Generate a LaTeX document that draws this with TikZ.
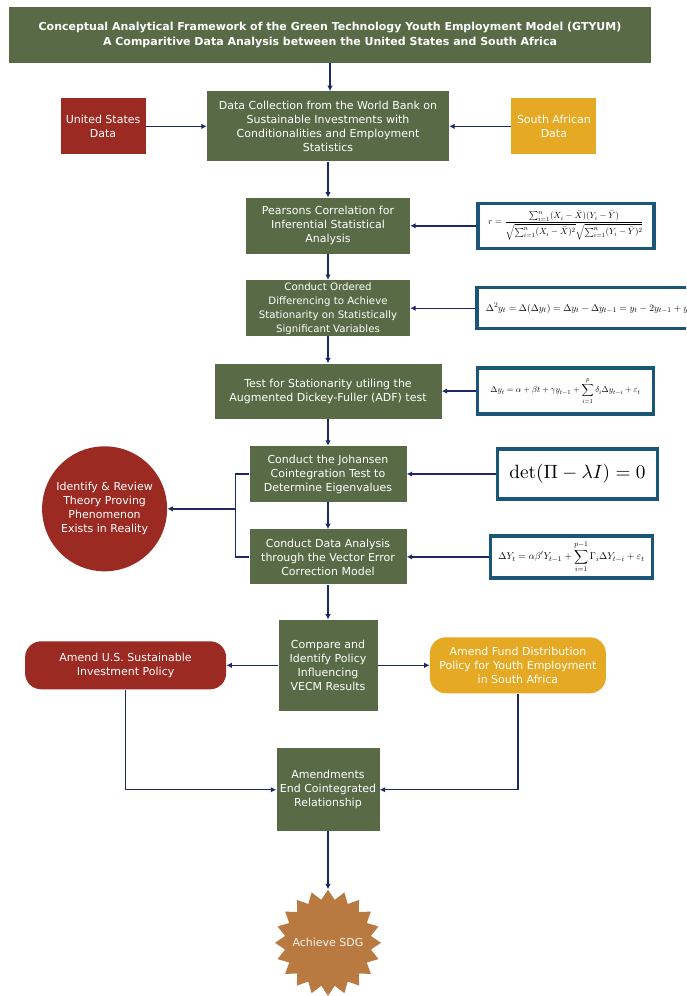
\documentclass[tikz,border=0pt]{standalone}
\usepackage{tikz}
\usetikzlibrary{positioning,shapes.geometric,calc,arrows.meta}
\usepackage{xcolor}
\definecolor{gtgreen}{RGB}{88,107,70}
\definecolor{gtred}{RGB}{155,42,35}
\definecolor{gtyellow}{RGB}{229,169,35}
\definecolor{gtbrown}{RGB}{184,122,64}
\definecolor{gtblue}{RGB}{27,86,120}
\definecolor{gtnavy}{RGB}{30,40,100}
\usepackage{amsmath}
\usepackage{graphicx}
\usepackage[no-math]{fontspec}
\setmainfont{DejaVu Sans}

\begin{document}
\begin{tikzpicture}[
    x=1pt, y=-1pt,
    font=\fontsize{11}{14}\selectfont,
    box/.style={fill=gtgreen, text=white, inner sep=2pt, align=center},
    side/.style={text=white, inner sep=2pt, align=center},
    formula/.style={draw=gtblue, line width=3.5pt, fill=white, inner sep=0pt},
    arr/.style={-{Latex[length=5.5pt,width=5.5pt]}, line width=1.4pt, gtnavy},
    link/.style={line width=1.4pt, gtnavy},
]
\useasboundingbox (0,0) rectangle (686,996);
\clip (0,0) rectangle (686,996);

\node[box, minimum width=642pt, minimum height=56pt, font=\fontsize{11}{15}\selectfont\bfseries] (title) at (330,35) {Conceptual Analytical Framework of the Green Technology Youth Employment Model (GTYUM)\\A Comparitive Data Analysis between the United States and South Africa};
\node[box, minimum width=242pt, minimum height=70pt, below=28pt of title, xshift=-2pt] (dc) {Data Collection from the World Bank on\\Sustainable Investments with\\Conditionalities and Employment\\Statistics};
\node[side, fill=gtred, minimum width=85pt, minimum height=56pt, left=61pt of dc] (usData) {United States\\Data};
\node[side, fill=gtyellow, minimum width=85pt, minimum height=56pt, right=62pt of dc] (saData) {South African\\Data};
\node[box, minimum width=164pt, minimum height=56pt, below=36pt of dc] (pears) {Pearsons Correlation for\\Inferential Statistical\\Analysis};
\node[box, minimum width=164pt, minimum height=56pt, below=26pt of pears, font=\fontsize{10.2}{14}\selectfont] (order) {Conduct Ordered\\Differencing to Achieve\\Stationarity on Statistically\\Significant Variables};
\node[box, minimum width=227pt, minimum height=55pt, below=27pt of order] (adf) {Test for Stationarity utiling the\\Augmented Dickey-Fuller (ADF) test};
\node[box, minimum width=157pt, minimum height=56pt, below=27pt of adf] (jo) {Conduct the Johansen\\Cointegration Test to\\Determine Eigenvalues};
\node[box, minimum width=157pt, minimum height=55pt, below=27pt of jo] (vecm) {Conduct Data Analysis\\through the Vector Error\\Correction Model};
\node[box, minimum width=99pt, minimum height=91pt, below=35pt of vecm] (comp) {Compare and\\Identify Policy\\Influencing\\VECM Results};
\node[side, fill=gtred, rounded corners=16pt, minimum width=201pt, minimum height=48pt, left=52pt of comp] (usPol) {Amend U.S. Sustainable\\Investment Policy};
\node[side, fill=gtyellow, rounded corners=16pt, minimum width=176pt, minimum height=56pt, right=52pt of comp] (saPol) {Amend Fund Distribution\\Policy for Youth Employment\\in South Africa};
\node[box, minimum width=103pt, minimum height=83pt, below=37pt of comp] (amend) {Amendments\\End Cointegrated\\Relationship};
\node[star, star points=20, star point ratio=1.22, minimum size=106pt, inner sep=0pt, fill=gtbrown, below=58pt of amend] (sdg) {};
\node[text=white!90!gtbrown] (sdgText) at (sdg.center) {Achieve SDG};

\node[formula, minimum width=176pt, minimum height=45pt, right=66pt of pears] (corrF) {\resizebox{155pt}{!}{$r=\dfrac{\sum_{i=1}^{n}(X_i-\bar{X})(Y_i-\bar{Y})}{\sqrt{\sum_{i=1}^{n}(X_i-\bar{X})^2}\sqrt{\sum_{i=1}^{n}(Y_i-\bar{Y})^2}}$}};
\node[formula, minimum width=233pt, minimum height=41pt, right=65pt of order] (diffF) {\resizebox{215pt}{!}{$\Delta^2 y_t=\Delta(\Delta y_t)=\Delta y_t-\Delta y_{t-1}=y_t-2y_{t-1}+y_{t-2}$}};
\node[formula, minimum width=176pt, minimum height=46pt, right=34pt of adf] (adfF) {\resizebox{150pt}{!}{$\displaystyle\Delta y_t=\alpha+\beta t+\gamma y_{t-1}+\sum_{i=1}^{p}\delta_i\Delta y_{t-i}+\varepsilon_t$}};
\node[formula, minimum width=160pt, minimum height=50pt, right=89pt of jo] (detF) {\resizebox{136pt}{!}{$\det(\Pi-\lambda I)=0$}};
\node[formula, minimum width=162pt, minimum height=42pt, right=82pt of vecm] (vecmF) {\resizebox{146pt}{!}{$\displaystyle\Delta Y_t=\alpha\beta' Y_{t-1}+\sum_{i=1}^{p-1}\Gamma_i\Delta Y_{t-i}+\varepsilon_t$}};

\coordinate (brk) at ($(jo.west)!0.42!(vecm.west)+(-14,0)$);
\node[circle, fill=gtred, text=white, minimum size=125pt, inner sep=0pt, align=center, left=68pt of brk] (theory) {Identify \& Review\\Theory Proving\\Phenomenon\\Exists in Reality};

\draw[arr] (title) -- (title |- dc.north);
\draw[arr] (usData) -- (dc);
\draw[arr] (saData) -- (dc);
\draw[arr] (dc) -- (pears);
\draw[arr] (pears) -- (order);
\draw[arr] (order) -- (adf);
\draw[arr] (adf) -- (jo);
\draw[arr] (jo) -- (vecm);
\draw[arr] (vecm) -- (comp);
\draw[arr] (corrF) -- (pears);
\draw[arr] (diffF) -- (order);
\draw[arr] (adfF) -- (adf);
\draw[arr] (detF) -- (jo);
\draw[arr] (vecmF) -- (vecm);
\draw[link] (jo.west) -- (jo.west -| brk) |- (vecm.west);
\draw[arr] (brk) -- (theory);
\draw[arr] (comp) -- (usPol);
\draw[arr] (comp) -- (saPol);
\draw[arr] (usPol) |- (amend);
\draw[arr] (saPol) |- (amend);
\draw[arr] (amend) -- (sdg);
\end{tikzpicture}
\end{document}
